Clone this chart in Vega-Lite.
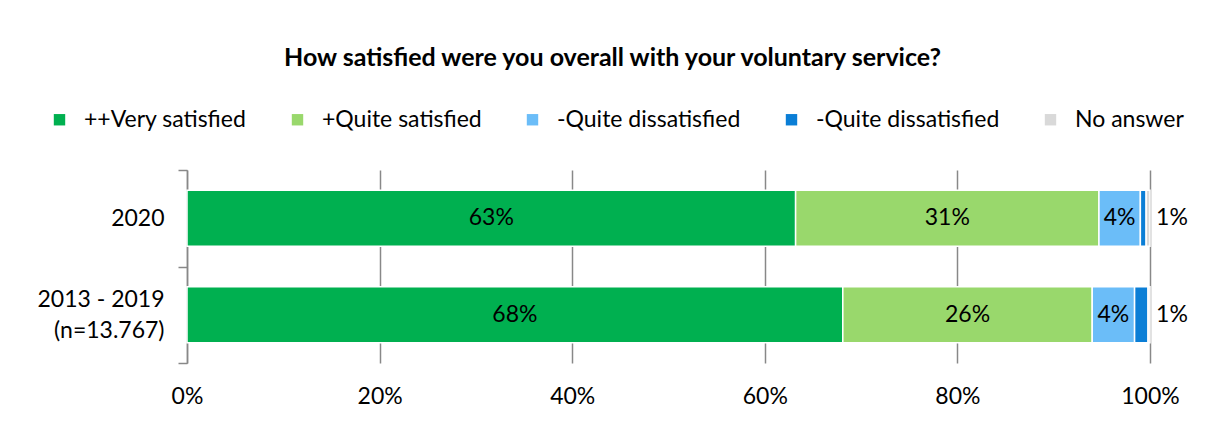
{
  "$schema": "https://vega.github.io/schema/vega-lite/v6.json",
  "width": 963,
  "height": 193,
  "autosize": {"type": "none"},
  "padding": {"left": 187, "top": 170, "right": 63, "bottom": 82},
  "background": "white",
  "title": {
    "text": "How satisfied were you overall with your voluntary service?",
    "font": "Lato",
    "fontSize": 25,
    "fontWeight": "bold",
    "color": "#000000",
    "anchor": "middle",
    "frame": "group",
    "dx": -56,
    "offset": 37
  },
  "data": {
    "values": [
      {"period": "2020", "category": "++Very satisfied", "k": 1, "value": 63.2, "label": "63%"},
      {"period": "2020", "category": "+Quite satisfied", "k": 2, "value": 31.5, "label": "31%"},
      {"period": "2020", "category": "-Quite dissatisfied", "k": 3, "value": 4.3, "label": "4%"},
      {"period": "2020", "category": "--Very dissatisfied", "k": 4, "value": 0.6, "label": "1%"},
      {"period": "2020", "category": "No answer", "k": 5, "value": 0.4, "label": ""},
      {"period": "2013 - 2019|(n=13.767)", "category": "++Very satisfied", "k": 1, "value": 68.1, "label": "68%"},
      {"period": "2013 - 2019|(n=13.767)", "category": "+Quite satisfied", "k": 2, "value": 25.9, "label": "26%"},
      {"period": "2013 - 2019|(n=13.767)", "category": "-Quite dissatisfied", "k": 3, "value": 4.4, "label": "4%"},
      {"period": "2013 - 2019|(n=13.767)", "category": "--Very dissatisfied", "k": 4, "value": 1.4, "label": "1%"},
      {"period": "2013 - 2019|(n=13.767)", "category": "No answer", "k": 5, "value": 0.2, "label": ""}
    ]
  },
  "transform": [
    {"stack": "value", "groupby": ["period"], "sort": [{"field": "k", "order": "ascending"}], "as": ["v0", "v1"]},
    {"calculate": "(datum.v0 + datum.v1) / 2", "as": "mid"}
  ],
  "encoding": {
    "y": {
      "field": "period",
      "type": "nominal",
      "sort": ["2020", "2013 - 2019|(n=13.767)"],
      "title": null,
      "scale": {"paddingInner": 0, "paddingOuter": 0},
      "axis": {
        "labelExpr": "split(datum.label, '|')",
        "labelFont": "Lato",
        "labelFontSize": 23,
        "labelColor": "#000000",
        "labelLineHeight": 31,
        "labelPadding": 14,
        "labelOffset": {"condition": {"test": "datum.value != '2020'", "value": -15}, "value": 0},
        "tickSize": 9,
        "tickBand": "extent",
        "tickColor": "#888888",
        "tickWidth": 1.5,
        "domainColor": "#888888",
        "domainWidth": 1.5,
        "grid": false
      }
    }
  },
  "layer": [
    {
      "mark": {"type": "bar", "stroke": "white", "strokeWidth": 1.5, "height": {"band": 0.58}},
      "encoding": {
        "x": {
          "field": "v0",
          "type": "quantitative",
          "scale": {"domain": [0, 100], "nice": false},
          "title": null,
          "axis": {
            "values": [0, 20, 40, 60, 80, 100],
            "labelExpr": "datum.value + '%'",
            "labelFont": "Lato",
            "labelFontSize": 23,
            "labelColor": "#000000",
            "labelPadding": 22,
            "labelFlush": false,
            "ticks": false,
            "domain": false,
            "grid": true,
            "gridColor": "#888888",
            "gridWidth": 1.5
          }
        },
        "x2": {"field": "v1"},
        "color": {
          "field": "category",
          "type": "nominal",
          "sort": ["++Very satisfied", "+Quite satisfied", "-Quite dissatisfied", "--Very dissatisfied", "No answer"],
          "scale": {
            "domain": ["++Very satisfied", "+Quite satisfied", "-Quite dissatisfied", "--Very dissatisfied", "No answer"],
            "range": ["#00B050", "#99D86C", "#6BBDF8", "#0A7ED6", "#D9D9D9"]
          },
          "legend": {
            "title": null,
            "orient": "none",
            "direction": "horizontal",
            "columns": 5,
            "legendX": -139,
            "legendY": -62,
            "symbolType": "square",
            "symbolSize": 130,
            "symbolStrokeWidth": 0,
            "labelFont": "Lato",
            "labelFontSize": 23,
            "labelColor": "#000000",
            "labelOffset": 13,
            "labelLimit": 400,
            "columnPadding": 39,
            "labelExpr": "datum.label == '--Very dissatisfied' ? '-Quite dissatisfied' : datum.label"
          }
        }
      }
    },
    {
      "transform": [{"filter": "datum.k <= 3"}],
      "mark": {"type": "text", "font": "Lato", "fontSize": 23, "color": "#000000"},
      "encoding": {
        "x": {"field": "mid", "type": "quantitative"},
        "text": {"field": "label"}
      }
    },
    {
      "transform": [{"filter": "datum.k == 4"}],
      "mark": {"type": "text", "font": "Lato", "fontSize": 23, "color": "#000000", "align": "center", "dx": 22},
      "encoding": {
        "x": {"datum": 100, "type": "quantitative"},
        "text": {"field": "label"}
      }
    }
  ],
  "config": {
    "view": {"stroke": null}
  }
}
